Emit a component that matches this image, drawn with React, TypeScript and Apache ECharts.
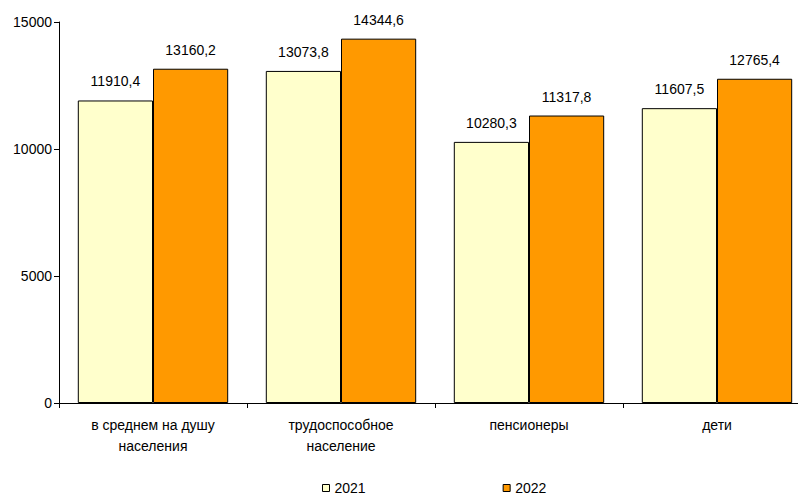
import React, { useEffect, useRef } from "react";
import * as echarts from "echarts";

const categories = ["в среднем на душу\nнаселения", "трудоспособное\nнаселение", "пенсионеры", "дети"];
const series2021 = [11910.4, 13073.8, 10280.3, 11607.5];
const series2022 = [13160.2, 14344.6, 11317.8, 12765.4];
const seriesNames = ["2021", "2022"];

const fmt = (v: number) => v.toFixed(1).replace(".", ",");

export default function App() {
  const ref = useRef<HTMLDivElement>(null);
  useEffect(() => {
    const chart = echarts.init(ref.current!, undefined, { renderer: "svg" });
    const font = "Liberation Sans, Arial, sans-serif";
    chart.setOption({
      animation: false,
      textStyle: { fontFamily: font },
      grid: { left: 59, top: 22, bottom: 93, width: 752, outerBoundsMode: "none", containLabel: false },
      legend: {
        left: 322,
        top: 480,
        padding: 0,
        itemWidth: 7,
        itemHeight: 7,
        itemGap: 137,
        icon: "rect",
        textStyle: { fontFamily: font, fontSize: 14, color: "#000", lineHeight: 16 },
        data: seriesNames.map((n) => ({ name: n, itemStyle: { borderColor: "#000", borderWidth: 1 } })),
      },
      xAxis: {
        type: "category",
        data: categories,
        axisLine: { lineStyle: { color: "#000", width: 1 } },
        axisTick: { show: true, length: 5, lineStyle: { color: "#000" } },
        axisLabel: { color: "#000", fontSize: 14, fontFamily: font, margin: 11, lineHeight: 21 },
      },
      yAxis: {
        type: "value",
        min: 0,
        max: 15000,
        interval: 5000,
        axisLine: { show: true, lineStyle: { color: "#000", width: 1 } },
        axisTick: { show: true, length: 5, lineStyle: { color: "#000" } },
        splitLine: { show: false },
        axisLabel: { color: "#000", fontSize: 14, fontFamily: font, margin: 7, formatter: (v: number) => String(v) },
      },
      series: [
        {
          name: seriesNames[0],
          type: "bar",
          data: series2021,
          barGap: "0%",
          barCategoryGap: "20%",
          itemStyle: { color: "#FFFFCC", borderColor: "#000", borderWidth: 1 },
          label: { show: true, position: "top", distance: 12, color: "#000", fontSize: 14, fontFamily: font, formatter: (p: any) => fmt(p.value) },
        },
        {
          name: seriesNames[1],
          type: "bar",
          data: series2022,
          barGap: "0%",
          barCategoryGap: "20%",
          itemStyle: { color: "#FF9900", borderColor: "#000", borderWidth: 1 },
          label: { show: true, position: "top", distance: 12, color: "#000", fontSize: 14, fontFamily: font, formatter: (p: any) => fmt(p.value) },
        },
      ],
    });
    return () => chart.dispose();
  }, []);
  return <div ref={ref} style={{ width: 798, height: 496, position: "fixed", left: 0, top: 0, background: "#fff" }} />;
}
